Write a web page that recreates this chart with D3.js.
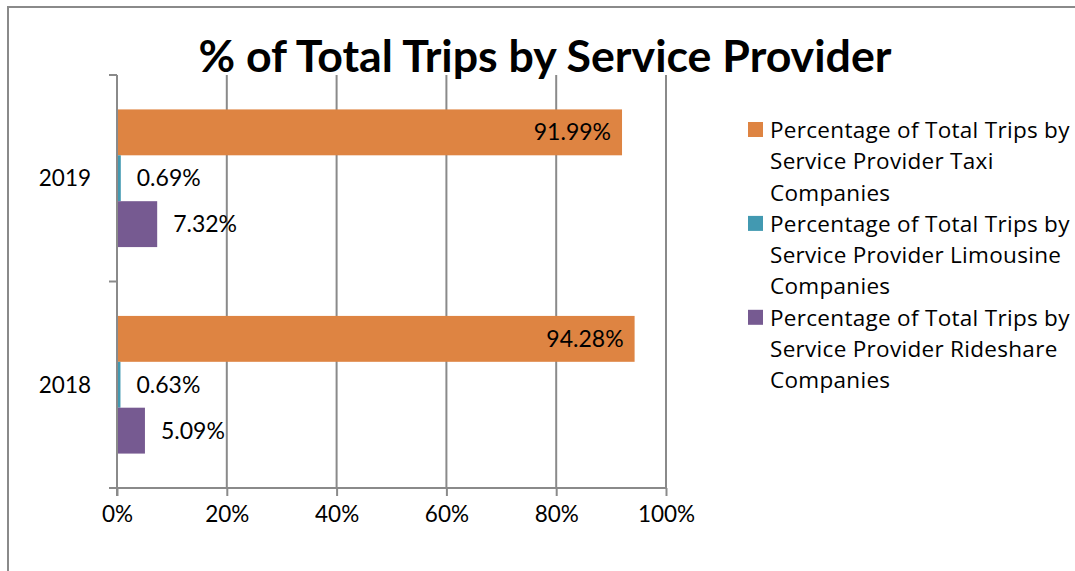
<!DOCTYPE html>
<html>
<head>
<meta charset="utf-8">
<script src="https://cdn.jsdelivr.net/npm/d3@7/dist/d3.min.js"></script>
<style>
  body { margin: 0; background: #fff; }
  svg { display: block; font-family: Lato, "Open Sans", sans-serif; }
</style>
</head>
<body>
<svg id="chart" width="1075" height="571"></svg>
<script>
// data
var years = ["2019", "2018"];
var series = ["Taxi", "Limousine", "Rideshare"];
var legendLines = [
  ["Percentage of Total Trips by", "Service Provider Taxi", "Companies"],
  ["Percentage of Total Trips by", "Service Provider Limousine", "Companies"],
  ["Percentage of Total Trips by", "Service Provider Rideshare", "Companies"]
];
var taxi = [91.99, 94.28];
var limo = [0.69, 0.63];
var rideshare = [7.32, 5.09];
var xTicks = [0, 20, 40, 60, 80, 100];

var colors = {
  "Taxi": "#DE8442",
  "Limousine": "#4299B1",
  "Rideshare": "#765A91"
};
var grey = "#8a8a8a";

var svg = d3.select("#chart");

// outer frame (only top and left visible)
svg.append("path")
  .attr("d", "M8,571 L8,7 L1075,7")
  .attr("fill", "none")
  .attr("stroke", grey)
  .attr("stroke-width", 2);

// title
svg.append("text")
  .attr("x", 545)
  .attr("y", 72)
  .attr("text-anchor", "middle")
  .style("font-size", "44.7px")
  .style("font-weight", "bold")
  .text("% of Total Trips by Service Provider");

var x = d3.scaleLinear().domain([0, 100]).range([117, 666]);
var y = d3.scaleBand().domain(years).range([75, 488]);
var inner = d3.scaleBand().domain(series)
  .range([y.bandwidth() / 6, y.bandwidth() * 5 / 6]);

// gridlines
svg.append("g").selectAll("line")
  .data(xTicks.slice(1))
  .enter().append("line")
  .attr("x1", function (d) { return x(d); })
  .attr("x2", function (d) { return x(d); })
  .attr("y1", 75)
  .attr("y2", 488)
  .attr("stroke", grey)
  .attr("stroke-width", 2);

// bars
var rows = years.map(function (yr, i) {
  return { year: yr, values: [
    { s: "Taxi", v: taxi[i] },
    { s: "Limousine", v: limo[i] },
    { s: "Rideshare", v: rideshare[i] }
  ] };
});

var groups = svg.append("g").selectAll("g")
  .data(rows)
  .enter().append("g")
  .attr("transform", function (d) { return "translate(0," + y(d.year) + ")"; });

groups.selectAll("rect")
  .data(function (d) { return d.values; })
  .enter().append("rect")
  .attr("x", x(0))
  .attr("y", function (d) { return inner(d.s); })
  .attr("width", function (d) { return x(d.v) - x(0); })
  .attr("height", inner.bandwidth())
  .attr("fill", function (d) { return colors[d.s]; });

groups.selectAll("text")
  .data(function (d) { return d.values; })
  .enter().append("text")
  .attr("x", function (d) { return d.s === "Taxi" ? x(d.v) - 11 : x(d.v) + 16; })
  .attr("y", function (d) { return inner(d.s) + inner.bandwidth() / 2; })
  .attr("dy", "0.35em")
  .attr("text-anchor", function (d) { return d.s === "Taxi" ? "end" : "start"; })
  .style("font-size", "23px")
  .text(function (d) { return d.v.toFixed(2) + "%"; });

// x axis
var xAxis = d3.axisBottom(x)
  .tickValues(xTicks)
  .tickSize(8)
  .tickFormat(function (d) { return d + "%"; });
var gx = svg.append("g")
  .attr("transform", "translate(0,488)")
  .call(xAxis);
gx.select(".domain").attr("d", "M109,0H666").attr("stroke", grey).attr("stroke-width", 2);
gx.selectAll(".tick line").attr("stroke", grey).attr("stroke-width", 2);
gx.selectAll(".tick text")
  .attr("y", 34)
  .attr("dy", "0")
  .style("font-size", "22.5px")
  .style("font-family", "Lato, sans-serif")
  .attr("fill", "#000");

// y axis
var gy = svg.append("g");
gy.append("line")
  .attr("x1", x(0)).attr("x2", x(0))
  .attr("y1", 75).attr("y2", 496)
  .attr("stroke", grey).attr("stroke-width", 2);
gy.selectAll("line.tk")
  .data([y("2019"), y("2018"), y("2018") + y.bandwidth()])
  .enter().append("line")
  .attr("class", "tk")
  .attr("x1", 109).attr("x2", x(0))
  .attr("y1", function (d) { return d; })
  .attr("y2", function (d) { return d; })
  .attr("stroke", grey).attr("stroke-width", 2);
gy.selectAll("text")
  .data(years)
  .enter().append("text")
  .attr("x", 91)
  .attr("y", function (d) { return y(d) + y.bandwidth() / 2; })
  .attr("dy", "0.35em")
  .attr("text-anchor", "end")
  .style("font-size", "22.5px")
  .text(function (d) { return d; });

// legend
var legend = svg.append("g").attr("transform", "translate(748,122)");
var lineH = 31.3;
var item = legend.selectAll("g")
  .data(series)
  .enter().append("g")
  .attr("transform", function (d, i) { return "translate(0," + (i * 3 * lineH) + ")"; });
item.append("rect")
  .attr("width", 15).attr("height", 15)
  .attr("fill", function (d) { return colors[d]; });
item.append("text")
  .attr("x", 22)
  .attr("y", 16)
  .style("font-size", "22.5px")
  .style("letter-spacing", "0.3px")
  .style("font-family", "'Open Sans', sans-serif")
  .selectAll("tspan")
  .data(function (d, i) { return legendLines[i]; })
  .enter().append("tspan")
  .attr("x", 22)
  .attr("dy", function (d, i) { return i === 0 ? 0 : lineH; })
  .text(function (d) { return d; });
</script>
</body>
</html>
